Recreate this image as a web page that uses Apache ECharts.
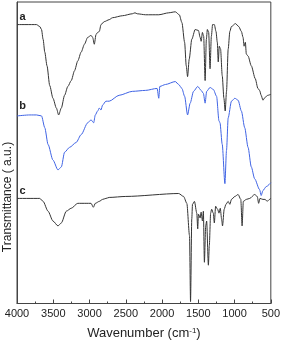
<!DOCTYPE html>
<html>
<head>
<meta charset="utf-8">
<script src="https://cdn.jsdelivr.net/npm/echarts@6/dist/echarts.min.js"></script>
<style>html,body{margin:0;padding:0;background:#fff;}#c{width:283px;height:345px;}</style>
</head>
<body>
<div id="c"></div>
<script>
// Wavenumber (cm-1) / transmittance (a.u., offset traces)
const seriesA = [[4000,284],[3731,284],[3686,282],[3662,279],[3640,269],[3617,256],[3586,242],[3549,222],[3504,209],[3457,199],[3426,192],[3389,199],[3344,212],[3299,221],[3252,227],[3207,237],[3162,247],[3115,256],[3070,264],[3025,271],[2979,273],[2957,271],[2934,264],[2910,274],[2888,276],[2865,277],[2842,284],[2797,287],[2729,289],[2683,291],[2547,293],[2410,295],[2373,296],[2342,295],[2227,294],[2045,294],[1908,296],[1817,297],[1762,294],[1726,286],[1689,266],[1666,242],[1648,231],[1625,249],[1590,269],[1543,279],[1498,278],[1475,271],[1461,267],[1443,276],[1426,272],[1406,227],[1389,269],[1375,279],[1357,276],[1338,239],[1320,272],[1303,284],[1279,284],[1256,277],[1238,266],[1225,246],[1211,262],[1193,259],[1170,232],[1147,209],[1129,196],[1111,216],[1088,259],[1065,277],[1043,282],[988,285],[942,282],[906,277],[883,271],[869,262],[851,266],[838,254],[814,252],[769,242],[715,229],[678,219],[655,217],[633,212],[609,207],[578,210],[541,212],[500,213]];
const seriesB = [[4000,191],[3822,192],[3731,192],[3662,191],[3617,179],[3572,162],[3504,146],[3435,136],[3389,139],[3344,154],[3275,159],[3184,164],[3115,172],[3025,184],[2979,187],[2943,184],[2920,192],[2888,196],[2865,199],[2842,197],[2820,202],[2774,206],[2729,206],[2592,212],[2410,216],[2227,217],[2068,219],[2045,209],[2031,221],[1953,223],[1817,226],[1771,223],[1726,219],[1689,211],[1648,192],[1612,204],[1566,216],[1508,221],[1461,217],[1430,214],[1406,204],[1385,216],[1338,220],[1293,218],[1248,211],[1215,186],[1201,184],[1170,162],[1133,122],[1111,156],[1088,189],[1043,206],[996,209],[951,207],[906,196],[860,179],[814,159],[769,139],[723,127],[655,116],[633,110],[609,115],[564,119],[500,123]];
const seriesC = [[4000,107],[3686,107],[3640,104],[3572,94],[3504,84],[3435,79],[3389,82],[3320,94],[3252,97],[3162,102],[3047,102],[2979,102],[2947,98],[2920,102],[2865,104],[2820,106],[2774,107],[2729,108],[2500,109],[1771,112],[1703,109],[1658,102],[1621,69],[1607,2],[1590,86],[1580,101],[1553,104],[1521,92],[1508,76],[1498,91],[1475,87],[1461,93],[1443,84],[1430,94],[1416,42],[1398,79],[1385,84],[1361,39],[1348,59],[1330,92],[1316,96],[1293,92],[1279,82],[1261,99],[1234,96],[1215,92],[1197,97],[1179,86],[1166,79],[1143,96],[1119,101],[1088,104],[1065,101],[1043,106],[996,109],[951,111],[914,106],[896,79],[879,104],[838,106],[791,107],[723,111],[687,109],[668,102],[650,107],[609,106],[578,106],[551,104],[518,106],[500,107]];
const traceLabels = ['a','b','c'];
const labelAnchors = [[3922,292],[3922,201],[3922,115]];
const xTicks = [4000,3500,3000,2500,2000,1500,1000,500];

const FONT = 'Liberation Sans, Arial, sans-serif';
const chart = echarts.init(document.getElementById('c'), null, {renderer:'canvas'});
function mkSeries(data, color, idx){
  return {
    type:'line', data:data, showSymbol:false, symbol:'none', animation:false,
    smooth:0.25, smoothMonotone:'x',
    lineStyle:{color:color, width:1},
    markPoint:{
      symbol:'circle', symbolSize:0, silent:true, animation:false,
      label:{show:true, formatter:traceLabels[idx], color:'#222', fontSize:11, fontWeight:'bold', fontFamily:FONT, position:'inside'},
      data:[{coord:labelAnchors[idx]}]
    }
  };
}
chart.setOption({
  animation:false,
  grid:{left:17, right:10, top:2, bottom:36, show:true, borderColor:'#444', borderWidth:1},
  xAxis:{
    type:'value', inverse:true, min:500, max:4000, interval:500,
    axisLine:{show:true, lineStyle:{color:'#444', width:1}},
    axisTick:{show:true, inside:true, length:4, lineStyle:{color:'#444'}},
    minorTick:{show:true, splitNumber:2, length:2, lineStyle:{color:'#444'}},
    splitLine:{show:false},
    axisLabel:{show:true, color:'#222', fontSize:11, margin:5, fontFamily:FONT,
      formatter:function(v){ return xTicks.indexOf(v) >= 0 ? String(v) : ''; }},
    name:'{n|Wavenumber (cm}{s|-1}{n|)}', nameLocation:'middle', nameGap:23,
    nameTextStyle:{rich:{n:{fontSize:13, color:'#222', fontFamily:FONT}, s:{fontSize:8, color:'#222', verticalAlign:'top', padding:[0,0,6,0], fontFamily:FONT}}}
  },
  yAxis:{
    type:'value', min:0, max:307,
    axisLine:{show:true, lineStyle:{color:'#444'}},
    axisTick:{show:false}, axisLabel:{show:false}, splitLine:{show:false}
  },
  graphic:[{
    type:'text', x:8, y:197, rotation:Math.PI/2,
    style:{text:'Transmittance ( a.u.)', fill:'#222', fontSize:12, fontFamily:FONT, align:'center', verticalAlign:'middle'}
  }],
  series:[mkSeries(seriesA,'#333',0), mkSeries(seriesB,'#3f63e4',1), mkSeries(seriesC,'#333',2)]
});
</script>
</body>
</html>
